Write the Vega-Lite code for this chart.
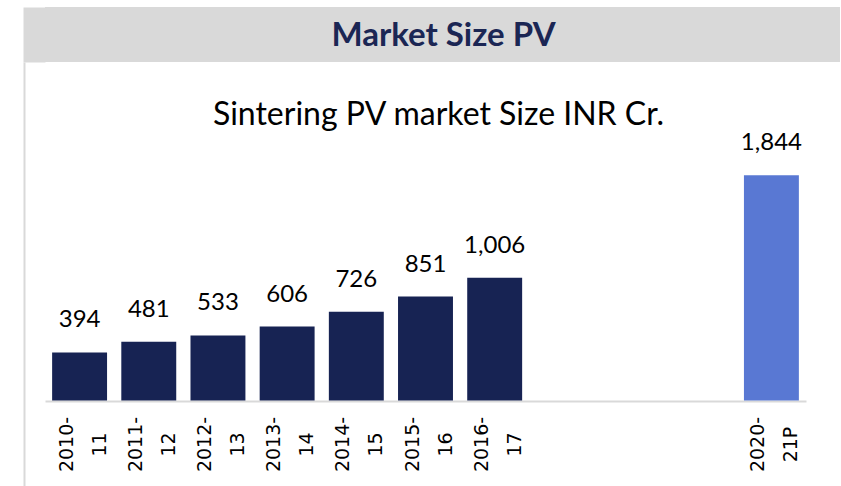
{
  "$schema": "https://vega.github.io/schema/vega-lite/v6.json",
  "padding": {"left": 24, "top": 7, "right": 0, "bottom": 0},
  "background": "white",
  "spacing": 0,
  "config": {"view": {"stroke": null}},
  "vconcat": [
    {
      "width": 795,
      "height": 55,
      "view": {"fill": "#d9d9d9", "stroke": null},
      "data": {"values": [{"header": "Market Size PV"}]},
      "mark": {"type": "text", "font": "Lato", "fontWeight": "bold", "fontSize": 33, "color": "#1b2654", "dx": 1, "dy": 1, "baseline": "middle"},
      "encoding": {
        "text": {"field": "header", "type": "nominal"},
        "y": {"field": "header", "type": "nominal", "axis": {"title": null, "labels": false, "ticks": false, "domain": true, "domainColor": "#d9d9d9", "domainWidth": 22, "offset": 11}}
      }
    },
    {
      "width": 761,
      "height": 424,
      "title": {"text": "Sintering PV market Size INR Cr.", "font": "Lato", "fontSize": 32, "fontWeight": "normal", "color": "#000000", "anchor": "middle", "frame": "group", "baseline": "alphabetic", "offset": -95, "dx": 13},
      "data": {"values": [
        {"year": "2010-|11", "value": 394, "kind": "Actual"},
        {"year": "2011-|12", "value": 481, "kind": "Actual"},
        {"year": "2012-|13", "value": 533, "kind": "Actual"},
        {"year": "2013-|14", "value": 606, "kind": "Actual"},
        {"year": "2014-|15", "value": 726, "kind": "Actual"},
        {"year": "2015-|16", "value": 851, "kind": "Actual"},
        {"year": "2016-|17", "value": 1006, "kind": "Actual"},
        {"year": "2020-|21P", "value": 1844, "kind": "Projected"}
      ]},
      "encoding": {
        "x": {
          "field": "year", "type": "nominal", "sort": null,
          "scale": {"domain": ["2010-|11", "2011-|12", "2012-|13", "2013-|14", "2014-|15", "2015-|16", "2016-|17", "gap1", "gap2", "gap3", "2020-|21P"], "paddingInner": 0.206, "paddingOuter": 0.103},
          "axis": {
            "title": null, "domainColor": "#d9d9d9", "domainWidth": 2, "ticks": false, "tickSize": 0,
            "labelAngle": -90, "labelAlign": "center", "labelBaseline": "middle",
            "labelFont": "DejaVu Sans", "labelFontSize": 19, "labelLineHeight": 33, "labelColor": "#000000",
            "labelPadding": 43, "labelOffset": -13, "offset": -85, "labelOverlap": false, "labelFlush": false,
            "labelExpr": "indexof(datum.label, '|') >= 0 ? split(datum.label, '|') : ''"
          }
        },
        "y": {
          "field": "value", "type": "quantitative",
          "scale": {"domain": [-700, 2772], "nice": false, "zero": false},
          "axis": {"domain": true, "domainColor": "#d9d9d9", "domainWidth": 2, "labels": false, "ticks": false, "grid": false, "title": null, "offset": 21}
        }
      },
      "layer": [
        {
          "mark": {"type": "bar"},
          "encoding": {
            "color": {"field": "kind", "type": "nominal", "scale": {"domain": ["Actual", "Projected"], "range": ["#172353", "#5978d3"]}, "legend": null}
          }
        },
        {
          "mark": {"type": "text", "font": "Lato", "fontSize": 24, "baseline": "alphabetic", "dy": -25, "color": "#000000"},
          "encoding": {"text": {"field": "value", "type": "quantitative", "format": ","}}
        }
      ]
    }
  ]
}
